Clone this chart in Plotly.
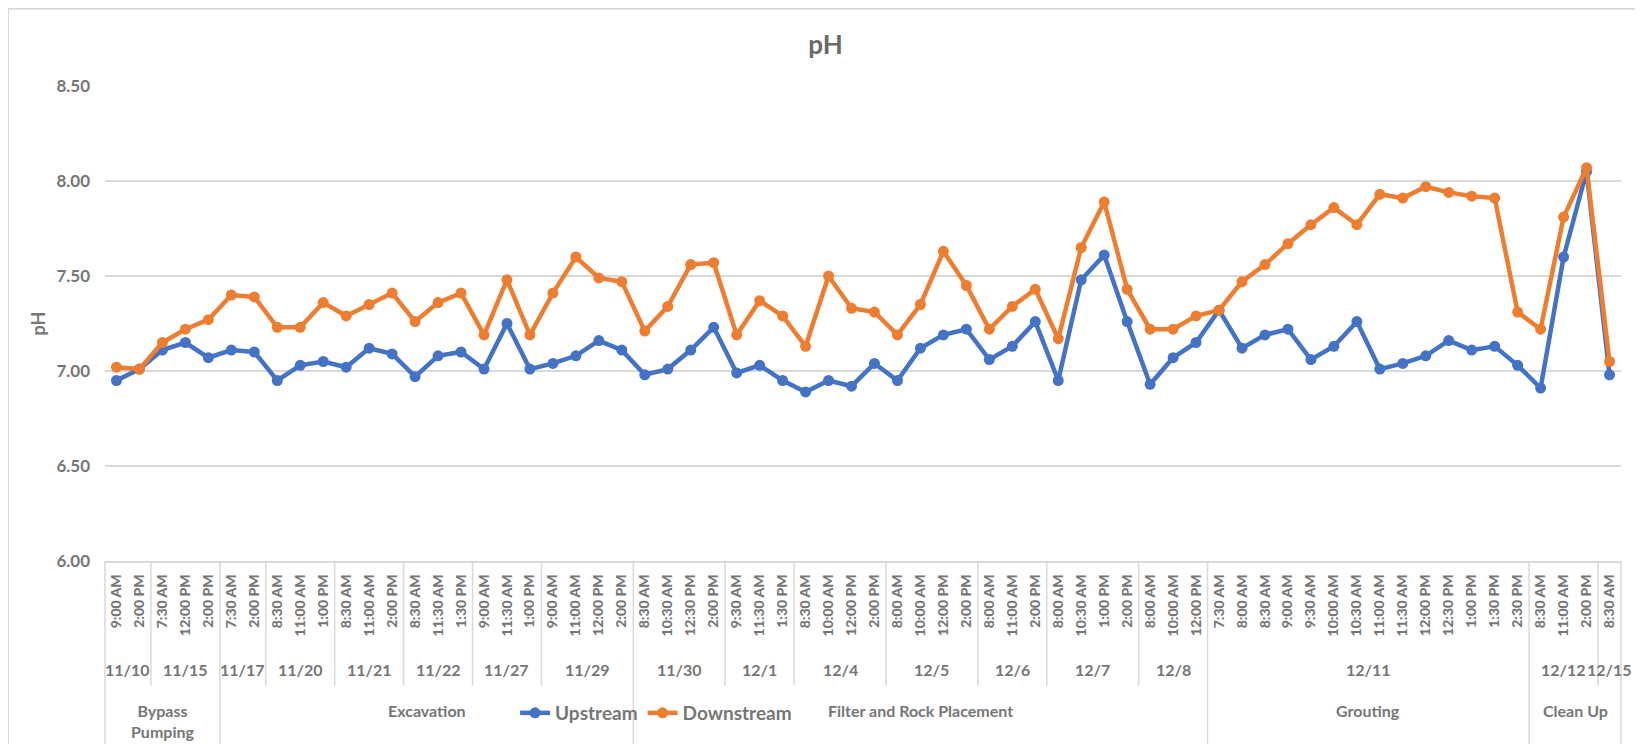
import plotly.graph_objects as go

times = ["9:00 AM", "2:00 PM",
         "7:30 AM", "12:00 PM", "2:00 PM",
         "7:30 AM", "2:00 PM",
         "8:30 AM", "11:00 AM", "1:00 PM",
         "8:30 AM", "11:00 AM", "2:00 PM",
         "8:30 AM", "11:30 AM", "1:30 PM",
         "9:00 AM", "11:30 AM", "1:00 PM",
         "9:00 AM", "11:00 AM", "12:00 PM", "2:00 PM",
         "8:30 AM", "10:30 AM", "12:30 PM", "2:00 PM",
         "9:30 AM", "11:30 AM", "1:30 PM",
         "8:30 AM", "10:00 AM", "12:00 PM", "2:00 PM",
         "8:00 AM", "10:00 AM", "12:00 PM", "2:00 PM",
         "8:00 AM", "11:00 AM", "2:00 PM",
         "8:00 AM", "10:30 AM", "1:00 PM", "2:00 PM",
         "8:00 AM", "10:00 AM", "12:00 PM",
         "7:30 AM", "8:00 AM", "8:30 AM", "9:00 AM", "9:30 AM", "10:00 AM", "10:30 AM",
         "11:00 AM", "11:30 AM", "12:00 PM", "12:30 PM", "1:00 PM", "1:30 PM", "2:30 PM",
         "8:30 AM", "11:00 AM", "2:00 PM",
         "8:30 AM"]

dates = ["11/10", "11/15", "11/17", "11/20", "11/21", "11/22", "11/27", "11/29",
         "11/30", "12/1", "12/4", "12/5", "12/6", "12/7", "12/8", "12/11", "12/12", "12/15"]
date_counts = [2, 3, 2, 3, 3, 3, 3, 4, 4, 3, 4, 4, 3, 4, 3, 14, 3, 1]

phases = ["Bypass<br>Pumping", "Excavation", "Filter and Rock Placement", "Grouting", "Clean Up"]
phase_date_counts = [2, 6, 7, 1, 2]  # number of dates in each phase

upstream = [6.95, 7.01, 7.11, 7.15, 7.07, 7.11, 7.10, 6.95, 7.03, 7.05, 7.02, 7.12, 7.09,
            6.97, 7.08, 7.10, 7.01, 7.25, 7.01, 7.04, 7.08, 7.16, 7.11, 6.98, 7.01, 7.11,
            7.23, 6.99, 7.03, 6.95, 6.89, 6.95, 6.92, 7.04, 6.95, 7.12, 7.19, 7.22, 7.06,
            7.13, 7.26, 6.95, 7.48, 7.61, 7.26, 6.93, 7.07, 7.15, 7.32, 7.12, 7.19, 7.22,
            7.06, 7.13, 7.26, 7.01, 7.04, 7.08, 7.16, 7.11, 7.13, 7.03, 6.91, 7.60, 8.05,
            6.98]
downstream = [7.02, 7.01, 7.15, 7.22, 7.27, 7.40, 7.39, 7.23, 7.23, 7.36, 7.29, 7.35, 7.41,
              7.26, 7.36, 7.41, 7.19, 7.48, 7.19, 7.41, 7.60, 7.49, 7.47, 7.21, 7.34, 7.56,
              7.57, 7.19, 7.37, 7.29, 7.13, 7.50, 7.33, 7.31, 7.19, 7.35, 7.63, 7.45, 7.22,
              7.34, 7.43, 7.17, 7.65, 7.89, 7.43, 7.22, 7.22, 7.29, 7.32, 7.47, 7.56, 7.67,
              7.77, 7.86, 7.77, 7.93, 7.91, 7.97, 7.94, 7.92, 7.91, 7.31, 7.22, 7.81, 8.07,
              7.05]

FONT = "Lato"
GRAY = "#767676"
LINEGRAY = "#D9D9D9"

idx = list(range(len(times)))

fig = go.Figure()
fig.add_trace(go.Scatter(x=idx, y=upstream, mode="lines+markers", name="Upstream",
                         line=dict(color="#4472C4", width=4.5),
                         marker=dict(color="#4472C4", size=11)))
fig.add_trace(go.Scatter(x=idx, y=downstream, mode="lines+markers", name="Downstream",
                         line=dict(color="#ED7D31", width=4.5),
                         marker=dict(color="#ED7D31", size=11)))

annotations = []
shapes = []

# date labels + separators
start = 0
date_bounds = []
for d, c in zip(dates, date_counts):
    center = start + (c - 1) / 2
    annotations.append(dict(x=center, y=-0.229, xref="x", yref="paper", text=d,
                            showarrow=False, yanchor="middle",
                            font=dict(family=FONT, size=16, color=GRAY, weight="bold")))
    start += c
    date_bounds.append(start)

# phase labels
di = 0
phase_bounds = set()
for p, n in zip(phases, phase_date_counts):
    first = sum(date_counts[:di])
    last = sum(date_counts[:di + n])
    center = first + (last - 1 - first) / 2
    annotations.append(dict(x=center, y=-0.29, xref="x", yref="paper", text=p,
                            showarrow=False, yanchor="top",
                            font=dict(family=FONT, size=16, color=GRAY, weight="bold")))
    di += n
    phase_bounds.add(last)

for b in date_bounds[:-1]:
    y_end = -0.45 if b in phase_bounds else -0.262
    shapes.append(dict(type="line", xref="x", yref="paper", x0=b - 0.5, x1=b - 0.5,
                       y0=0, y1=y_end, line=dict(color=LINEGRAY, width=1.5)))
# left/right edges of the category axis
for xe in (0, 1):
    shapes.append(dict(type="line", xref="x domain", yref="paper", x0=xe, x1=xe,
                       y0=0, y1=-0.45, line=dict(color=LINEGRAY, width=1.5)))
# outer chart border
shapes.append(dict(type="rect", xref="paper", yref="paper", x0=-0.064, x1=1.0127,
                   y0=-0.5, y1=1.1626, line=dict(color=LINEGRAY, width=2), layer="below"))

W, H = 1635, 736
fig.update_layout(
    width=W, height=H,
    margin=dict(l=97, r=22, t=78, b=181),
    paper_bgcolor="white", plot_bgcolor="white",
    font=dict(family=FONT, color=GRAY),
    title=dict(text="pH", x=0.5, xref="container", xanchor="center",
               y=1 - 37 / H, yref="container", yanchor="middle",
               font=dict(family=FONT, size=26, color="#6a6a6a", weight="bold")),
    showlegend=True,
    legend=dict(orientation="h", x=0.2705, xanchor="left", y=-0.32, yanchor="middle",
                font=dict(family=FONT, size=19, color=GRAY, weight="bold"),
                bgcolor="rgba(0,0,0,0)", itemwidth=30),
    annotations=annotations,
    shapes=shapes,
)
fig.update_xaxes(range=[-0.5, len(times) - 0.5], tickmode="array", tickvals=idx,
                 ticktext=times, tickangle=-90, showgrid=False, zeroline=False,
                 showline=True, linecolor=LINEGRAY, linewidth=1.5, ticks="",
                 ticklabelstandoff=6,
                 tickfont=dict(family=FONT, size=14, color=GRAY, weight=900))
fig.update_yaxes(range=[6, 8.5], dtick=0.5, tick0=6, tickformat=".2f", showgrid=True,
                 gridcolor=LINEGRAY, gridwidth=1.5, zeroline=False, showline=False,
                 ticks="", ticklabelstandoff=14,
                 tickfont=dict(family=FONT, size=17, color=GRAY, weight="bold"),
                 title=dict(text="pH", standoff=6,
                            font=dict(family=FONT, size=18, color=GRAY, weight="bold")))

fig.write_html("out.html")
